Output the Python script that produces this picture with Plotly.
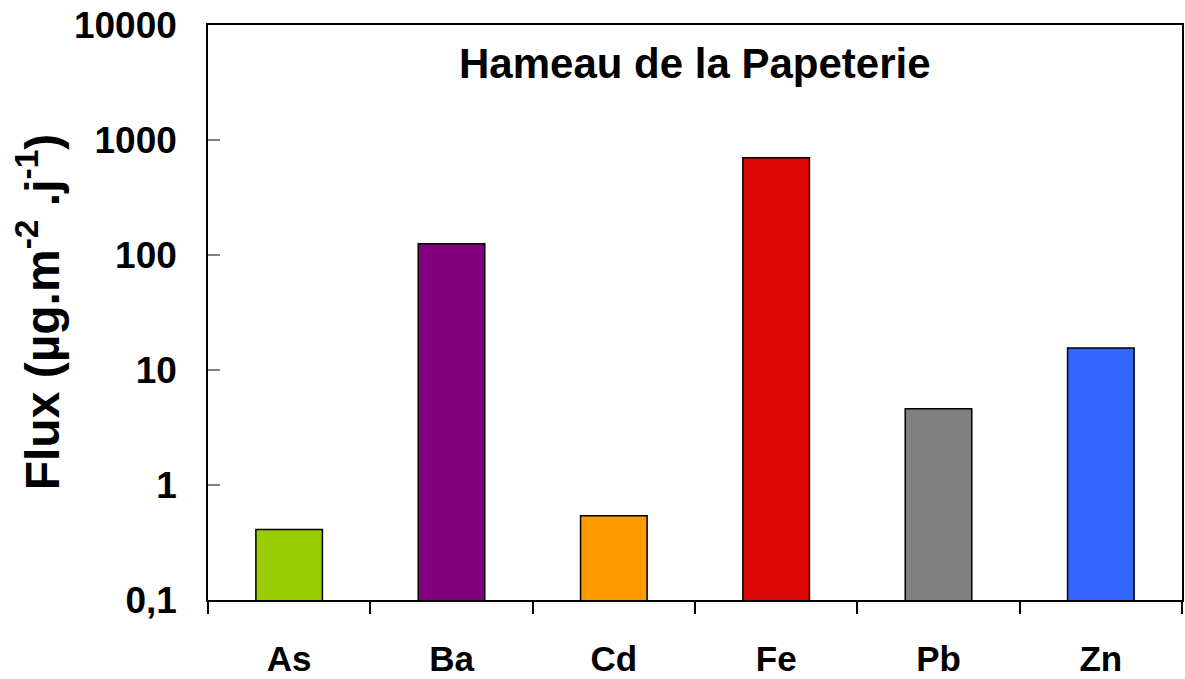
import plotly.graph_objects as go

# Deposition flux per element (µg.m-2.j-1)
elements = ["As", "Ba", "Cd", "Fe", "Pb", "Zn"]
flux = [0.41, 125, 0.54, 700, 4.6, 15.5]
bar_colors = ["#99CC00", "#800080", "#FF9900", "#DD0806", "#808080", "#3366FF"]

y_tick_vals = [0.1, 1, 10, 100, 1000, 10000]
y_tick_text = ["0,1", "1", "10", "100", "1000", "10000"]

W, H = 1185, 679
M_L, M_R, M_T, M_B = 208, 1, 25, 79
FONT = "Liberation Sans, Arial, sans-serif"

fig = go.Figure(
    go.Bar(
        x=elements,
        y=flux,
        marker=dict(color=bar_colors, line=dict(color="black", width=1.5)),
        width=0.41,
    )
)

plot_w = W - M_L - M_R
plot_h = H - M_T - M_B

fig.update_layout(
    width=W,
    height=H,
    margin=dict(l=M_L, r=M_R, t=M_T, b=M_B, pad=0),
    paper_bgcolor="white",
    plot_bgcolor="white",
    showlegend=False,
    font=dict(family=FONT, color="black"),
    annotations=[
        dict(
            text="<b>Hameau de la Papeterie</b>",
            xref="paper", yref="paper",
            x=0.5, y=1 - (64 - M_T) / plot_h,
            xanchor="center", yanchor="middle",
            showarrow=False,
            font=dict(size=42, family=FONT, color="black"),
        ),
        dict(
            text="<b>Flux (µg.m<sup>-2</sup> .j<sup>-1</sup>)</b>",
            xref="paper", yref="paper",
            x=(38 - M_L) / plot_w, y=1 - (312 - M_T) / plot_h,
            xanchor="center", yanchor="middle",
            textangle=-90,
            showarrow=False,
            font=dict(size=48, family=FONT, color="black"),
        ),
    ],
)

fig.update_xaxes(
    type="category",
    showline=True, linecolor="black", linewidth=1.5, mirror=True,
    ticks="outside", tickson="boundaries", ticklen=12, tickcolor="black", tickwidth=1.5,
    tickfont=dict(size=35, family=FONT, color="black"),
    tickprefix="<b>", ticksuffix="</b>",
    ticklabelstandoff=27,
    showgrid=False, zeroline=False,
)

fig.update_yaxes(
    type="log",
    range=[-1, 4],
    tickvals=y_tick_vals,
    ticktext=["<b>%s</b>" % t for t in y_tick_text],
    showline=True, linecolor="black", linewidth=1.5, mirror=True,
    ticks="inside", ticklen=12, tickcolor="#808080", tickwidth=2,
    tickfont=dict(size=37, family=FONT, color="black"),
    ticklabelstandoff=22,
    showgrid=False, zeroline=False,
)

fig.write_html("out.html")
